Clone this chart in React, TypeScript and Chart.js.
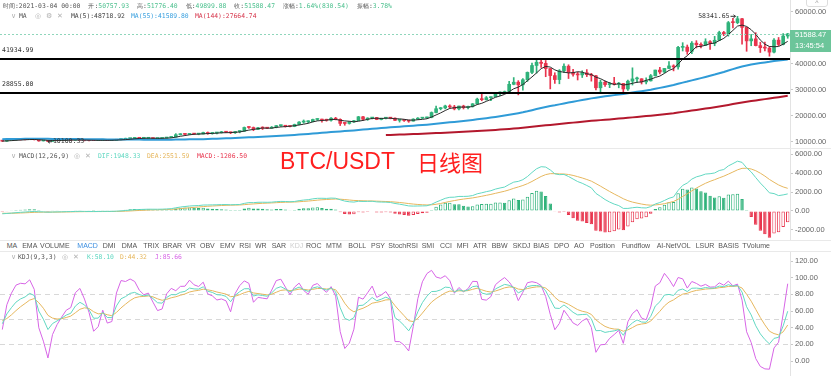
import React, { useEffect, useRef } from "react";
import { Chart, registerables } from "chart.js";
Chart.register(...registerables);

// ---------- DATA ----------
// 59 daily closes before the first visible candle (history used by MA / MACD)
const PRE_CLOSE = [
  9130, 9150, 9170, 9210, 9160, 9390, 9530, 9610, 9550, 9710, 9930, 11030, 10910, 11100, 11110, 11350,
  11800, 11070, 11230, 11190, 11740, 11770, 11600, 11760, 11680, 11880, 11410, 11580, 11780, 11770, 11860,
  11910, 12300, 11970, 11730, 11860, 11520, 11680, 11650, 11750, 11330, 11460, 11320, 11530, 11470, 11710, 11650,
  11920, 11390, 10170, 10470, 10170, 10250, 10370, 10130, 10230, 10340, 10390, 10440,
];

const OPEN = [
  10450, 10330, 10680, 10785, 10955, 10940, 10935, 11080, 10920, 10420,
  10535, 10240, 10740, 10690, 10725, 10775, 10705, 10840, 10775, 10620,
  10570, 10550, 10670, 10790, 10600, 10670, 10925, 11050, 11295, 11380,
  11545, 11425, 11430, 11505, 11325, 11370, 11515, 11755, 11915, 12805,
  12985, 12935, 13130, 13030, 13070, 13655, 13280, 13455, 13560, 13805,
  13760, 13550, 14025, 14145, 15590, 15580, 14840, 15480, 15330, 15310,
  15700, 16290, 16320, 16070, 15960, 16730, 17660, 17780, 17820, 18660,
  18700, 18420, 18370, 19160, 18720, 17150, 17140, 17720, 18180, 19700,
  18765, 19200, 19420, 18650, 19150, 19360, 19170, 18320, 18550, 18250,
  18030, 18800, 19170, 19270, 19440, 21335, 22800, 23110, 23860, 23480,
  22745, 23825, 23250, 23715, 24690, 26490, 26280, 27035, 27360, 28840,
  28950, 29410, 32180, 33000, 31990, 33950, 36770, 39430, 40670, 40240,
  38240, 35545, 34010, 37390, 39145, 36740, 36070, 35800, 36630, 35890,
  35470, 30850, 33000, 32080, 32260, 32250, 32510, 30400, 33400, 34270,
  34320, 33110, 33520, 35510, 37670, 36930, 38290, 39260, 38900, 46400,
  46500, 44850, 48010, 47410, 47190, 48580, 47930, 49140, 52120, 51550,
  55910, 55900, 57410, 54090, 48890, 49680, 47070, 46280, 46110, 44560,
  49180, 47508.2, 50757.93,
];

const HIGH = [
  10580, 10800, 10940, 11100, 11040, 11040, 11180, 11080, 10990, 10575,
  10545, 10780, 10760, 10800, 10800, 10950, 10860, 10850, 10950, 10670,
  10600, 10700, 10800, 10800, 10690, 10960, 11110, 11490, 11440, 11730,
  11560, 11550, 11630, 11540, 11400, 11530, 11820, 12030, 13220, 13190,
  13030, 13170, 13350, 13250, 13790, 13860, 13640, 13690, 14100, 13900,
  13820, 14070, 14250, 15770, 15970, 15770, 15650, 15850, 15480, 15960,
  16350, 16480, 16330, 16150, 16880, 17860, 18480, 18180, 18800, 18970,
  18800, 18770, 19420, 19490, 18920, 17460, 17850, 18350, 19860, 19920,
  19340, 19530, 19500, 19180, 19420, 19390, 19300, 18640, 18560, 18290,
  18950, 19410, 19350, 19570, 21560, 23800, 23280, 24170, 24300, 24100,
  23840, 24150, 23780, 24790, 26870, 28420, 27500, 27410, 28990, 29300,
  29600, 33300, 34780, 33600, 34360, 36940, 40370, 41950, 41380, 41350,
  38260, 36630, 37850, 40100, 39700, 37950, 36850, 37400, 37850, 36420,
  35600, 33830, 33460, 32940, 34880, 32920, 32560, 33780, 38530, 34930,
  34330, 34720, 35980, 37660, 38700, 38310, 40950, 39700, 46800, 48200,
  47310, 48630, 48970, 48150, 49710, 49000, 50620, 52620, 52550, 56370,
  57570, 58341.65, 57530, 54180, 51370, 52040, 48370, 48390, 46650, 49790,
  50200, 51740, 51776.4,
];

const LOW = [
  10200, 10250, 10620, 10690, 10740, 10820, 10890, 10760, 10280, 10360,
  10100.33, 10195, 10560, 10650, 10620, 10630, 10650, 10660, 10430, 10370,
  10500, 10520, 10630, 10530, 10540, 10530, 10830, 11050, 11280, 11180,
  11300, 11280, 11250, 11220, 11300, 11350, 11410, 11690, 11900, 12700,
  12730, 12890, 12900, 12780, 13060, 12950, 12990, 13120, 13420, 13620,
  13200, 13290, 13520, 14090, 15190, 14340, 14700, 14800, 15080, 15290,
  15440, 15960, 15700, 15800, 15870, 16560, 17220, 17340, 17760, 18300,
  17600, 18000, 18030, 18500, 16330, 16440, 16880, 17520, 18180, 18330,
  18330, 18860, 18570, 18500, 18860, 18900, 18200, 17650, 17910, 17570,
  18020, 18710, 19000, 19050, 19300, 21230, 22350, 22750, 23060, 22350,
  22350, 22700, 22700, 23430, 24500, 25850, 26100, 25880, 27320, 27850,
  28800, 28950, 32000, 28130, 29900, 33290, 36300, 36500, 38720, 35110,
  30420, 32530, 32380, 36700, 34410, 35360, 33850, 34800, 35150, 33400,
  30070, 28850, 31390, 30900, 31910, 30840, 29240, 29840, 31920, 32830,
  32300, 32300, 33420, 35360, 36160, 36570, 38220, 37350, 37990, 45000,
  43730, 43990, 46180, 46200, 47050, 45570, 47020, 48950, 50900, 50710,
  53860, 55480, 47620, 44890, 47020, 46950, 44430, 45000, 43000, 44300,
  47050, 47350, 49899.88,
];

const CLOSE = [
  10330, 10680, 10785, 10955, 10940, 10935, 11080, 10920, 10420, 10535,
  10240, 10740, 10690, 10725, 10775, 10705, 10840, 10775, 10620, 10570,
  10550, 10670, 10790, 10600, 10670, 10925, 11050, 11295, 11380, 11545,
  11425, 11430, 11505, 11325, 11370, 11515, 11755, 11915, 12805, 12985,
  12935, 13130, 13030, 13070, 13655, 13280, 13455, 13560, 13805, 13760,
  13550, 14025, 14145, 15590, 15580, 14840, 15480, 15330, 15310, 15700,
  16290, 16320, 16070, 15960, 16730, 17660, 17780, 17820, 18660, 18700,
  18420, 18370, 19160, 18720, 17150, 17140, 17720, 18180, 19700, 18765,
  19200, 19420, 18650, 19150, 19360, 19170, 18320, 18550, 18250, 18030,
  18800, 19170, 19270, 19440, 21335, 22800, 23110, 23860, 23480, 22745,
  23825, 23250, 23715, 24690, 26490, 26280, 27035, 27360, 28840, 28950,
  29410, 32180, 33000, 31990, 33950, 36770, 39430, 40670, 40240, 38240,
  35545, 34010, 37390, 39145, 36740, 36070, 35800, 36630, 35890, 35470,
  30850, 33000, 32080, 32260, 32250, 32510, 30400, 33400, 34270, 34320,
  33110, 33520, 35510, 37670, 36930, 38290, 39260, 38900, 46400, 46500,
  44850, 48010, 47410, 47190, 48580, 47930, 49140, 52120, 51550, 55910,
  55900, 57410, 54090, 48890, 49680, 47070, 46280, 46110, 44560, 49180,
  47508.2, 50757.93, 51588.47,
];

const LEVELS = [41934.99, 28855.0];
const PRICE_TICKS = [10000, 20000, 30000, 40000, 50000, 60000];
const MACD_TICKS = [-2000, 0, 2000, 4000, 6000];
const KDJ_TICKS = [0, 20, 40, 60, 80, 100, 120];
const KDJ_GUIDES = [80, 50, 20];
const COUNTDOWN = "13:45:54";

const HEADER_ITEMS = [
  ["时间:", "2021-03-04 00:00"],
  ["开:", "50757.93"],
  ["高:", "51776.40"],
  ["低:", "49899.88"],
  ["收:", "51588.47"],
  ["涨幅:", "1.64%(830.54)"],
  ["振幅:", "3.78%"],
];
const MA_LABELS = ["MA(5):48718.92", "MA(55):41589.80", "MA(144):27664.74"];
const MACD_LABELS = ["DIF:1948.33", "DEA:2551.59", "MACD:-1206.50"];
const KDJ_LABELS = ["K:58.10", "D:44.32", "J:85.66"];
const TABS = [
  "MA", "EMA", "VOLUME", "MACD", "DMI", "DMA", "TRIX", "BRAR", "VR", "OBV", "EMV", "RSI", "WR", "SAR",
  "KDJ", "ROC", "MTM", "BOLL", "PSY", "StochRSI", "SMI", "CCI", "MFI", "ATR", "BBW", "SKDJ", "BIAS",
  "DPO", "AO", "Position", "Fundflow", "AI-NetVOL", "LSUR", "BASIS", "TVolume",
];

// ---------- LAYOUT / STYLE ----------
const W = 831;
const AXIS_W = 41;
const TAB_X = [
  6.7, 22.2, 40, 77.3, 102.7, 121.7, 143.3, 162.7, 186, 200, 220, 239.3, 255, 271.7, 290, 306, 326,
  348.3, 371, 388.3, 421.7, 440, 456.7, 473.3, 491.7, 512.7, 533.3, 554, 574, 590, 621.7, 656.7,
  695.7, 718.3, 742.3,
];
const GREEN = "#2fb27a";
const RED = "#e8344d";
const LBL_GREEN = "#4cc08e";
const MONO = '"DejaVu Sans Mono", "Liberation Mono", monospace';
const SANS = '"Liberation Sans", Arial, sans-serif';
const C_DIF = "#62d8c2";
const C_DEA = "#e6b75e";
const C_J = "#d765e6";

// ---------- indicators ----------
function sma(arr: number[], n: number) {
  return arr.map((_, i) => {
    if (i < n - 1) return null;
    let s = 0;
    for (let k = i - n + 1; k <= i; k++) s += arr[k];
    return s / n;
  });
}
function ema(arr: number[], n: number) {
  const a = 2 / (n + 1);
  const out: number[] = [];
  arr.forEach((v, i) => out.push(i === 0 ? v : out[i - 1] + a * (v - out[i - 1])));
  return out;
}
const FULL = [...PRE_CLOSE, ...CLOSE];
const P = PRE_CLOSE.length;
const MA5 = sma(FULL, 5).slice(P);
const MA55 = sma(FULL, 55).slice(P);
const MA144 = sma(FULL, 144).slice(P);
const E12 = ema(FULL, 12);
const E26 = ema(FULL, 26);
const DIF_ALL = E12.map((v, i) => v - E26[i]);
const DEA_ALL = ema(DIF_ALL, 9);
const DIF = DIF_ALL.slice(P);
const DEA = DEA_ALL.slice(P);
const HIST_ALL = DIF_ALL.map((v, i) => 2 * (v - DEA_ALL[i]));
const HIST = HIST_ALL.slice(P);
const HIST_PREV = HIST_ALL.slice(P - 1, HIST_ALL.length - 1);

const K: number[] = [];
const D: number[] = [];
const J: number[] = [];
(() => {
  let k = 50, d = 50;
  CLOSE.forEach((c, i) => {
    const s = Math.max(0, i - 8);
    const lo = Math.min(...LOW.slice(s, i + 1));
    const hi = Math.max(...HIGH.slice(s, i + 1));
    const rsv = hi === lo ? 50 : ((c - lo) / (hi - lo)) * 100;
    k = (2 * k + rsv) / 3;
    d = (2 * d + k) / 3;
    K.push(k);
    D.push(d);
    J.push(3 * k - 2 * d);
  });
})();

const LABELS = CLOSE.map((_, i) => new Date(Date.UTC(2020, 8, 13 + i)).toISOString().slice(0, 10));

function yAxis(min: number, max: number, ticks: number[]) {
  return {
    position: "right" as const,
    min,
    max,
    afterFit: (s: any) => {
      s.width = AXIS_W;
      s.paddingTop = 0;
      s.paddingBottom = 0;
    },
    afterBuildTicks: (s: any) => {
      s.ticks = ticks.map((v) => ({ value: v }));
    },
    ticks: {
      font: { size: 7.5, family: SANS },
      color: "#666",
      padding: 2,
      callback: (v: any) => Number(v).toFixed(2),
    },
    grid: { drawOnChartArea: false, drawTicks: true, tickLength: 3, color: "#c8c8c8" },
    border: { display: true, color: "#e3e3e3" },
  };
}

const baseOptions = {
  responsive: false,
  maintainAspectRatio: false,
  animation: false as const,
  events: [] as any[],
  layout: { padding: 0 },
  plugins: { legend: { display: false }, tooltip: { enabled: false } },
};

function hLine(ctx: CanvasRenderingContext2D, x0: number, x1: number, y: number) {
  ctx.beginPath();
  ctx.moveTo(x0, y);
  ctx.lineTo(x1, y);
  ctx.stroke();
}

const mainOverlay = {
  id: "mainOverlay",
  afterDatasetsDraw(chart: any) {
    const { ctx, chartArea, scales } = chart;
    const y = scales.y;
    const x = scales.x;
    ctx.save();
    // support levels
    ctx.strokeStyle = "#000";
    ctx.lineWidth = 2;
    ctx.font = `6.5px ${MONO}`;
    ctx.fillStyle = "#333";
    ctx.textBaseline = "middle";
    ctx.textAlign = "left";
    LEVELS.forEach((lv) => {
      const py = Math.round(y.getPixelForValue(lv));
      hLine(ctx, chartArea.left, chartArea.right, py);
      ctx.fillText(lv.toFixed(2), 2, py - 9);
    });
    // current price dotted line
    const last = CLOSE[CLOSE.length - 1];
    const ly = Math.round(y.getPixelForValue(last)) + 0.5;
    ctx.strokeStyle = "#8fd6bb";
    ctx.lineWidth = 1;
    ctx.setLineDash([2, 2]);
    hLine(ctx, chartArea.left, chartArea.right, ly);
    ctx.setLineDash([]);
    // highest / lowest marks
    let hi = 0, lo = 0;
    HIGH.forEach((v, i) => { if (v > HIGH[hi]) hi = i; });
    LOW.forEach((v, i) => { if (v < LOW[lo]) lo = i; });
    ctx.strokeStyle = "#333";
    ctx.fillStyle = "#333";
    const hx = x.getPixelForValue(hi);
    const hy = y.getPixelForValue(HIGH[hi]);
    ctx.textAlign = "right";
    ctx.fillText(HIGH[hi].toFixed(2), hx - 8, hy);
    hLine(ctx, hx - 7, hx - 2, hy);
    ctx.beginPath();
    ctx.moveTo(hx - 2, hy);
    ctx.lineTo(hx - 4, hy - 1.5);
    ctx.moveTo(hx - 2, hy);
    ctx.lineTo(hx - 4, hy + 1.5);
    ctx.stroke();
    const lx = x.getPixelForValue(lo);
    const lyy = y.getPixelForValue(LOW[lo]);
    ctx.textAlign = "left";
    hLine(ctx, lx, lx + 4, lyy);
    ctx.beginPath();
    ctx.moveTo(lx, lyy);
    ctx.lineTo(lx + 2, lyy - 1.5);
    ctx.moveTo(lx, lyy);
    ctx.lineTo(lx + 2, lyy + 1.5);
    ctx.stroke();
    ctx.fillText(LOW[lo].toFixed(2), lx + 5, lyy);
    ctx.restore();
  },
  afterDraw(chart: any) {
    const { ctx, chartArea, scales } = chart;
    const y = scales.y;
    const last = CLOSE[CLOSE.length - 1];
    const py = y.getPixelForValue(last);
    ctx.save();
    ctx.fillStyle = "#6cc59a";
    ctx.fillRect(chartArea.right, Math.round(py - 4), AXIS_W, 22);
    ctx.fillStyle = "#fff";
    ctx.font = `7.5px ${SANS}`;
    ctx.textBaseline = "middle";
    ctx.textAlign = "left";
    ctx.fillText(last.toFixed(2), chartArea.right + 5, py + 1);
    ctx.fillText(COUNTDOWN, chartArea.right + 5, py + 12.5);
    ctx.restore();
  },
};

const kdjGuides = {
  id: "kdjGuides",
  beforeDatasetsDraw(chart: any) {
    const { ctx, chartArea, scales } = chart;
    ctx.save();
    ctx.strokeStyle = "#d8d8d8";
    ctx.lineWidth = 1;
    ctx.setLineDash([5, 4]);
    KDJ_GUIDES.forEach((g) => hLine(ctx, chartArea.left, chartArea.right, Math.round(scales.y.getPixelForValue(g)) + 0.5));
    ctx.restore();
  },
};

const candleColors = CLOSE.map((c, i) => (c >= OPEN[i] ? GREEN : RED));

function line(data: any[], color: string, width: number) {
  return {
    type: "line" as const,
    data,
    borderColor: color,
    borderWidth: width,
    pointRadius: 0,
    fill: false,
    tension: 0,
    order: 1,
  };
}

const Txt = (p: { x: number; y: number; c?: string; s?: number; f?: string; children: any }) => (
  <span
    style={{
      position: "absolute",
      left: p.x,
      top: p.y - 5,
      height: 10,
      lineHeight: "10px",
      fontSize: p.s ?? 6.4,
      fontFamily: p.f ?? MONO,
      color: p.c ?? "#555",
      whiteSpace: "pre",
    }}
  >
    {p.children}
  </span>
);

export default function App() {
  const mainRef = useRef<HTMLCanvasElement>(null);
  const macdRef = useRef<HTMLCanvasElement>(null);
  const kdjRef = useRef<HTMLCanvasElement>(null);

  useEffect(() => {
    const charts: Chart[] = [];
    charts.push(
      new Chart(mainRef.current as HTMLCanvasElement, {
        type: "bar",
        data: {
          labels: LABELS,
          datasets: [
            {
              type: "bar",
              data: LOW.map((l, i) => [l, HIGH[i]]),
              backgroundColor: candleColors,
              barThickness: 1,
              grouped: false,
              order: 3,
            } as any,
            {
              type: "bar",
              data: OPEN.map((o, i) => [o, CLOSE[i]]),
              backgroundColor: candleColors,
              barThickness: 3,
              minBarLength: 1,
              grouped: false,
              order: 2,
            } as any,
            line(MA5, "#2a2a2a", 1),
            line(MA55, "#2f9bd7", 2),
            line(MA144, "#b3182d", 2),
          ],
        },
        options: {
          ...baseOptions,
          scales: {
            x: { display: false, offset: true },
            y: yAxis(7692, 64615, PRICE_TICKS),
          },
        } as any,
        plugins: [mainOverlay],
      })
    );
    charts.push(
      new Chart(macdRef.current as HTMLCanvasElement, {
        type: "bar",
        data: {
          labels: LABELS,
          datasets: [
            {
              type: "bar",
              data: HIST,
              backgroundColor: HIST.map((v, i) => (v > HIST_PREV[i] ? "#ffffff" : v >= 0 ? GREEN : RED)),
              borderColor: HIST.map((v) => (v >= 0 ? GREEN : RED)),
              borderWidth: 1,
              borderSkipped: false,
              barPercentage: 0.75,
              categoryPercentage: 1,
              order: 2,
            } as any,
            line(DIF, C_DIF, 1),
            line(DEA, C_DEA, 1),
          ],
        },
        options: {
          ...baseOptions,
          scales: {
            x: { display: false, offset: true },
            y: yAxis(-3053, 6632, MACD_TICKS),
          },
        } as any,
      })
    );
    charts.push(
      new Chart(kdjRef.current as HTMLCanvasElement, {
        type: "line",
        data: {
          labels: LABELS,
          datasets: [line(K, C_DIF, 1), line(D, C_DEA, 1), line(J, C_J, 1)],
        },
        options: {
          ...baseOptions,
          scales: {
            x: { display: false, offset: true },
            y: yAxis(-18, 130.8, KDJ_TICKS),
          },
        } as any,
        plugins: [kdjGuides],
      })
    );
    return () => charts.forEach((c) => c.destroy());
  }, []);

  const sep = (top: number) => (
    <div style={{ position: "absolute", left: 0, top, width: W, height: 1, background: "#e9e9e9" }} />
  );
  const icon = (x: number, y: number, ch: string) => (
    <Txt x={x} y={y} c="#b0b0b0" s={7} f={'"DejaVu Sans", sans-serif'}>
      {ch}
    </Txt>
  );

  return (
    <div
      style={{
        position: "fixed",
        left: 0,
        top: 0,
        width: W,
        height: 376,
        background: "#fff",
        overflow: "hidden",
      }}
    >
      <canvas ref={mainRef} width={W} height={148} style={{ position: "absolute", left: 0, top: 0, display: "block" }} />
      <canvas ref={macdRef} width={W} height={92} style={{ position: "absolute", left: 0, top: 148, display: "block" }} />
      <canvas ref={kdjRef} width={W} height={124} style={{ position: "absolute", left: 0, top: 252, display: "block" }} />
      {sep(148)}
      {sep(240)}
      {sep(251)}

      {/* header */}
      <div
        style={{
          position: "absolute",
          left: 3,
          top: 1,
          height: 10,
          lineHeight: "10px",
          display: "flex",
          gap: 8,
          fontSize: 6.4,
          fontFamily: MONO,
          color: "#555",
          whiteSpace: "pre",
        }}
      >
        {HEADER_ITEMS.map(([k, v], i) => (
          <span key={k}>
            {k}
            <span style={{ color: i === 0 ? "#555" : LBL_GREEN }}>{v}</span>
          </span>
        ))}
      </div>
      {icon(11, 16, "∨")}
      <Txt x={19} y={16}>MA</Txt>
      {icon(35, 16, "◎")}
      {icon(46, 16, "⚙")}
      {icon(57, 16, "✕")}
      <Txt x={71} y={16} c="#444">{MA_LABELS[0]}</Txt>
      <Txt x={131} y={16} c="#3aa0df">{MA_LABELS[1]}</Txt>
      <Txt x={195} y={16} c="#d6364c">{MA_LABELS[2]}</Txt>
      <div
        style={{
          position: "absolute",
          left: 806,
          top: -4,
          width: 20,
          height: 9,
          border: "1px solid #ddd",
          borderRadius: 3,
          color: "#999",
          fontSize: 7,
          lineHeight: "11px",
          textAlign: "center",
          fontFamily: SANS,
        }}
      >
        ^
      </div>

      {/* MACD title */}
      {icon(11, 156, "∨")}
      <Txt x={19} y={156}>MACD(12,26,9)</Txt>
      {icon(74, 156, "◎")}
      {icon(85, 156, "✕")}
      <Txt x={98} y={156} c={C_DIF}>{MACD_LABELS[0]}</Txt>
      <Txt x={147} y={156} c={C_DEA}>{MACD_LABELS[1]}</Txt>
      <Txt x={197} y={156} c={RED}>{MACD_LABELS[2]}</Txt>

      {/* big title */}
      <span
        style={{
          position: "absolute",
          left: 280,
          top: 150,
          fontSize: 23,
          lineHeight: "23px",
          fontFamily: SANS,
          color: "#ff1f1f",
          whiteSpace: "pre",
        }}
      >
        BTC/USDT
      </span>
      <span
        style={{
          position: "absolute",
          left: 417,
          top: 150,
          fontSize: 22,
          lineHeight: "23px",
          fontFamily: '"Noto Sans CJK SC", sans-serif',
          color: "#ff1f1f",
          whiteSpace: "pre",
        }}
      >
        日线图
      </span>

      {/* tabs */}
      {TABS.map((t, i) => (
        <Txt
          key={t}
          x={TAB_X[i]}
          y={246}
          s={7}
          f={SANS}
          c={t === "MACD" ? "#3d8fe0" : t === "KDJ" ? "#cfcfcf" : "#555"}
        >
          {t}
        </Txt>
      ))}

      {/* KDJ title */}
      {icon(11, 257, "∨")}
      <Txt x={18} y={257}>KDJ(9,3,3)</Txt>
      {icon(62, 257, "◎")}
      {icon(73, 257, "✕")}
      <Txt x={87} y={257} c={C_DIF}>{KDJ_LABELS[0]}</Txt>
      <Txt x={120} y={257} c={C_DEA}>{KDJ_LABELS[1]}</Txt>
      <Txt x={155} y={257} c={C_J}>{KDJ_LABELS[2]}</Txt>
    </div>
  );
}
